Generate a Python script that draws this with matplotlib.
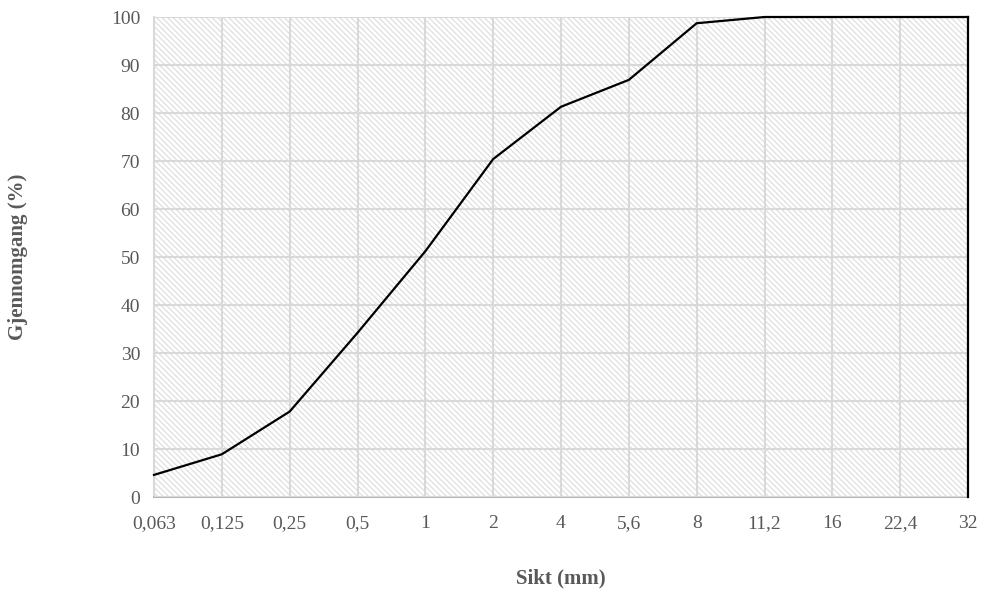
import matplotlib
matplotlib.use("Agg")
import matplotlib.pyplot as plt
from matplotlib.patches import Rectangle

categories = ["0,063", "0,125", "0,25", "0,5", "1", "2", "4", "5,6", "8", "11,2", "16", "22,4", "32"]
passing = [4.6, 8.9, 17.8, 34.2, 51.2, 70.4, 81.3, 86.9, 98.7, 100, 100, 100, 100]
yticks = list(range(0, 101, 10))

plt.rcParams['font.family'] = ['Liberation Serif', 'DejaVu Serif']
plt.rcParams['hatch.linewidth'] = 0.8
plt.rcParams['hatch.color'] = '#dcdcdc'

fig = plt.figure(figsize=(9.86, 5.94), dpi=100)
ax = fig.add_axes([154/986, 1-497/594, (968-154)/986, (497-17)/594])

x = list(range(len(categories)))
ax.add_patch(Rectangle((0, 0), 1, 1, transform=ax.transAxes, facecolor='white',
                       edgecolor='#dcdcdc', hatch='\\\\\\\\\\\\', linewidth=0, zorder=0))

ax.set_xlim(0, len(categories) - 1)
ax.set_ylim(0, 100)
ax.set_xticks(x)
ax.set_xticklabels(categories)
ax.set_yticks(yticks)
ax.grid(True, color='#d9d9d9', linewidth=1.5, zorder=1)
ax.set_axisbelow(False)

ax.plot(x, passing, color='black', linewidth=1.6, zorder=3, clip_on=False)
ax.plot([x[-1], x[-1]], [passing[-1], 0], color='black', linewidth=1.6, zorder=3, clip_on=False)

for s in ['top', 'right']:
    ax.spines[s].set_visible(False)
ax.spines['left'].set_color('#d9d9d9')
ax.spines['left'].set_linewidth(1.5)
ax.spines['bottom'].set_color('#a6a6a6')
ax.spines['bottom'].set_linewidth(1.2)

ax.tick_params(axis='both', length=0, labelsize=14, labelcolor='#595959')
ax.tick_params(axis='x', pad=13)
ax.tick_params(axis='y', pad=10)

fig.text(561/986, 1-578/594, "Sikt (mm)", ha='center', va='center', fontsize=15,
         fontweight='bold', color='#595959')
fig.text(18/986, 1-257/594, "Gjennomgang (%)", ha='center', va='center', fontsize=15,
         fontweight='bold', color='#595959', rotation=90)

fig.savefig("out.png", dpi=100)
